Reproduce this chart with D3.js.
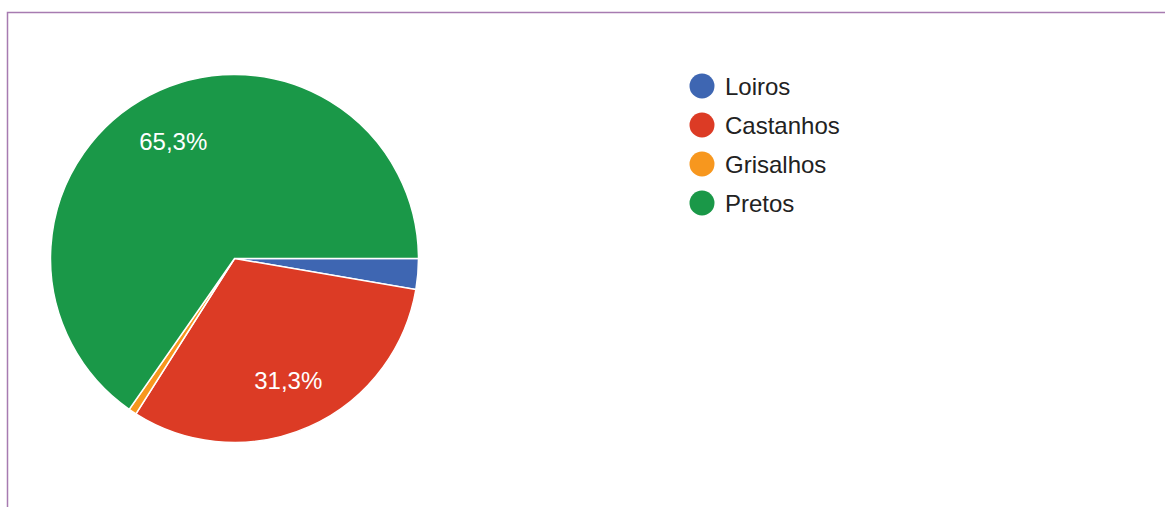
<!DOCTYPE html>
<html>
<head>
<meta charset="utf-8">
<script src="https://cdn.jsdelivr.net/npm/d3@7"></script>
<style>
  html, body { margin: 0; padding: 0; background: #fff; }
  svg { display: block; font-family: "Liberation Sans", Arial, sans-serif; }
</style>
</head>
<body>
<div id="chart"></div>
<script>
// Data
const categories = ["Loiros", "Castanhos", "Grisalhos", "Pretos"];
const values = [2.7, 31.3, 0.7, 65.3];
const colors = ["#3e66b2", "#dc3b25", "#f7971e", "#1a9848"];

const width = 1165, height = 507;
const cx = 234.5, cy = 258.5, radius = 184;

const svg = d3.select("#chart")
    .append("svg")
    .attr("width", width)
    .attr("height", height);

// frame (top and left border of the card)
svg.append("path")
    .attr("d", `M7.5,${height} L7.5,12.5 L${width},12.5`)
    .attr("fill", "none")
    .attr("stroke", "#a77bb1")
    .attr("stroke-width", 1.5);

const data = categories.map((c, i) => ({ name: c, value: values[i], color: colors[i] }));

// start at 3 o'clock, go clockwise
const pie = d3.pie()
    .value(d => d.value)
    .sort(null)
    .startAngle(Math.PI / 2)
    .endAngle(Math.PI / 2 + 2 * Math.PI);

const arc = d3.arc().innerRadius(0).outerRadius(radius);
const labelArc = d3.arc().innerRadius(radius * 0.72).outerRadius(radius * 0.72);

const g = svg.append("g").attr("transform", `translate(${cx},${cy})`);

const arcs = pie(data);

g.selectAll("path")
    .data(arcs)
    .enter()
    .append("path")
    .attr("d", arc)
    .attr("fill", d => d.data.color)
    .attr("stroke", "#fff")
    .attr("stroke-width", 1.5);

g.selectAll("text")
    .data(arcs.filter(d => d.data.value > 10))
    .enter()
    .append("text")
    .attr("transform", d => `translate(${labelArc.centroid(d)})`)
    .attr("text-anchor", "middle")
    .attr("dy", "0.38em")
    .attr("fill", "#fff")
    .style("font-size", "24px")
    .text(d => d.data.value.toFixed(1).replace(".", ",") + "%");

// Legend
const legend = svg.append("g").attr("transform", "translate(702,86)");
const item = legend.selectAll("g")
    .data(data)
    .enter()
    .append("g")
    .attr("transform", (d, i) => `translate(0,${i * 39})`);

item.append("circle")
    .attr("r", 12.5)
    .attr("fill", d => d.color);

item.append("text")
    .attr("x", 23)
    .attr("dy", "0.36em")
    .attr("fill", "#222")
    .style("font-size", "24px")
    .text(d => d.name);
</script>
</body>
</html>
